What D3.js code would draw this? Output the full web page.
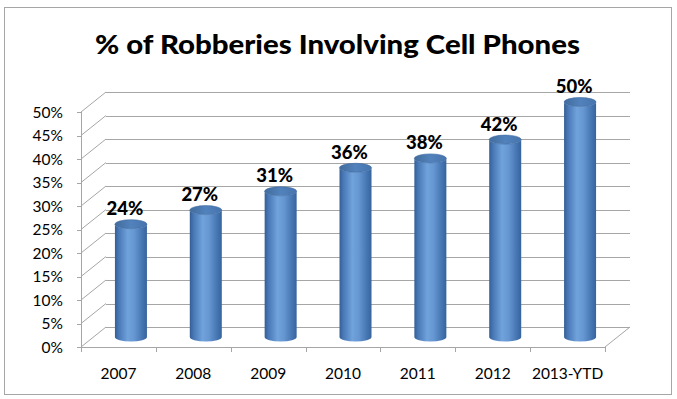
<!DOCTYPE html>
<html>
<head>
<meta charset="utf-8">
<script src="https://cdn.jsdelivr.net/npm/d3@7/dist/d3.min.js"></script>
<style>
  html, body { margin: 0; padding: 0; background: #fff; }
  svg { display: block; }
</style>
</head>
<body>
<svg id="chart" width="677" height="399"></svg>
<script>
const title = "% of Robberies Involving Cell Phones";
const categories = ["2007", "2008", "2009", "2010", "2011", "2012", "2013-YTD"];
const values = [24, 27, 31, 36, 38, 42, 50];
const yTicks = [0, 5, 10, 15, 20, 25, 30, 35, 40, 45, 50];

const svg = d3.select("#chart");
const FONT = "Lato, 'Open Sans', sans-serif";

// frame
svg.append("rect").attr("x", 4.5).attr("y", 7.5).attr("width", 667).attr("height", 387)
  .attr("fill", "#fff").attr("stroke", "#a6a6a6").attr("stroke-width", 1);

// 3D geometry
const depth = { dx: 25, dy: -20 };
const x = d3.scaleBand().domain(categories).range([81, 605]).paddingInner(0).paddingOuter(0);
const y = d3.scaleLinear().domain([0, 50]).range([347, 112]);

const grid = svg.append("g").attr("stroke", "#a6a6a6").attr("stroke-width", 1).attr("fill", "none");

yTicks.forEach(t => {
  const yy = Math.round(y(t) + depth.dy) + 0.5;
  grid.append("line").attr("x1", 81 + depth.dx).attr("x2", 605 + depth.dx)
    .attr("y1", yy).attr("y2", yy);
  grid.append("line").attr("x1", 81).attr("y1", y(t)).attr("x2", 81 + depth.dx).attr("y2", y(t) + depth.dy);
  grid.append("line").attr("x1", 77).attr("x2", 81).attr("y1", Math.round(y(t)) + 0.5).attr("y2", Math.round(y(t)) + 0.5);
});
grid.append("line").attr("x1", 81.5).attr("x2", 81.5).attr("y1", y(50)).attr("y2", y(0));
grid.append("line").attr("x1", 81).attr("x2", 605).attr("y1", Math.round(y(0)) + 0.5).attr("y2", Math.round(y(0)) + 0.5);
grid.append("line").attr("x1", 605).attr("y1", y(0)).attr("x2", 605 + depth.dx).attr("y2", y(0) + depth.dy);
categories.concat([null]).forEach((c, i) => {
  const xx = Math.round(81 + i * x.bandwidth()) + 0.5;
  grid.append("line").attr("x1", xx).attr("x2", xx).attr("y1", y(0)).attr("y2", y(0) + 5);
});

// y labels
svg.append("g").selectAll("text").data(yTicks).join("text")
  .attr("x", 63).attr("y", d => y(d) + 5.5)
  .attr("text-anchor", "end")
  .attr("font-family", FONT).attr("font-size", 15.5).attr("fill", "#000")
  .text(d => d + "%");

// x labels
svg.append("g").selectAll("text").data(categories).join("text")
  .attr("x", d => x(d) + x.bandwidth() / 2).attr("y", 378.5)
  .attr("text-anchor", "middle")
  .attr("font-family", FONT).attr("font-size", 15.5).attr("fill", "#000")
  .text(d => d);

// gradients
const defs = svg.append("defs");
const g1 = defs.append("linearGradient").attr("id", "body").attr("x1", "0").attr("x2", "1").attr("y1", "0").attr("y2", "0");
[[0, "#345f95"], [0.12, "#4878b6"], [0.4, "#70a2db"], [0.6, "#6697d2"], [0.88, "#4373af"], [1, "#36639b"]]
  .forEach(([o, c]) => g1.append("stop").attr("offset", o).attr("stop-color", c));
const g2 = defs.append("linearGradient").attr("id", "top").attr("x1", "0").attr("x2", "1").attr("y1", "0").attr("y2", "0");
[[0, "#416c9c"], [0.5, "#5282bc"], [1, "#4674ad"]]
  .forEach(([o, c]) => g2.append("stop").attr("offset", o).attr("stop-color", c));

// cylinders (placed at mid depth)
const rx = 16, ry = 4.5;
const midDx = depth.dx / 2, midDy = depth.dy / 2;
const bars = svg.append("g");
categories.forEach((c, i) => {
  const cx = x(c) + x.bandwidth() / 2 + midDx;
  const yb = y(0) + midDy;
  const yt = y(values[i]) + midDy;
  bars.append("path")
    .attr("d", `M${cx - rx},${yt} L${cx - rx},${yb} A${rx},${ry} 0 0 0 ${cx + rx},${yb} L${cx + rx},${yt} A${rx},${ry} 0 0 1 ${cx - rx},${yt} Z`)
    .attr("fill", "url(#body)");
  bars.append("ellipse").attr("cx", cx).attr("cy", yt).attr("rx", rx).attr("ry", ry)
    .attr("fill", "url(#top)").attr("stroke", "#3f6ca3").attr("stroke-width", 0.6);
});

// value labels
svg.append("g").selectAll("text").data(values).join("text")
  .attr("x", (d, i) => x(categories[i]) + x.bandwidth() / 2 + midDx - 6)
  .attr("y", d => y(d) + midDy - 9)
  .attr("text-anchor", "middle")
  .attr("font-family", FONT).attr("font-weight", 900).attr("font-size", 18.5).attr("fill", "#000")
  .text(d => d + "%");

// title
svg.append("text").attr("x", 337.5).attr("y", 54)
  .attr("text-anchor", "middle")
  .attr("font-family", FONT).attr("font-weight", 900).attr("font-size", 26).attr("fill", "#000")
  .attr("textLength", 485).attr("lengthAdjust", "spacingAndGlyphs")
  .text(title);
</script>
</body>
</html>
